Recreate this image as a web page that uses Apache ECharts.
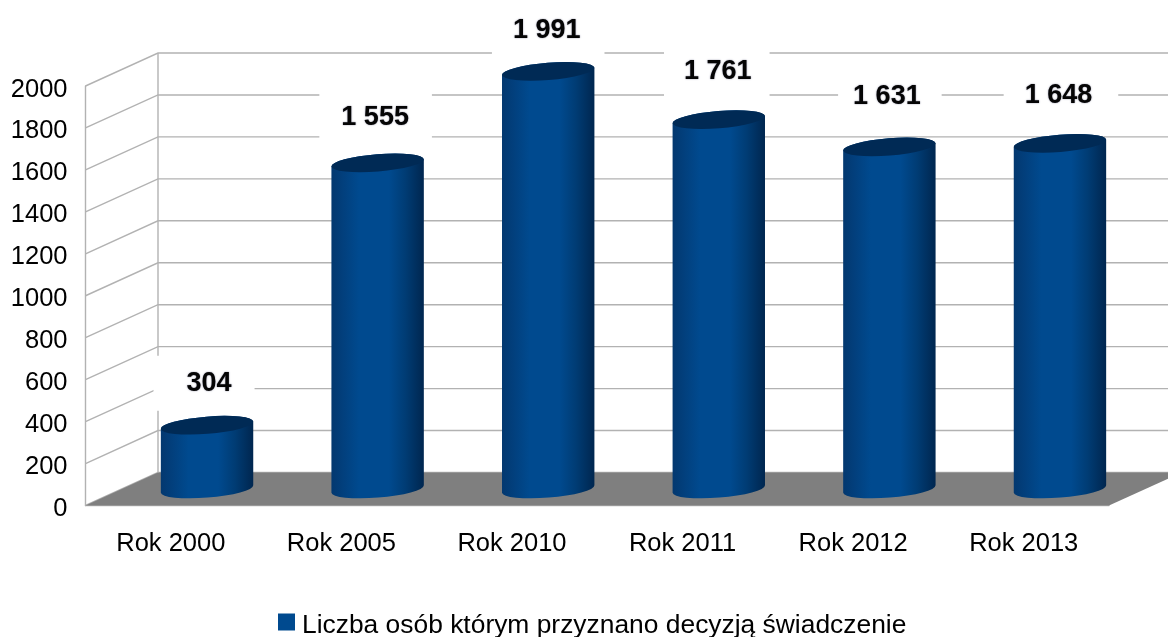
<!DOCTYPE html>
<html><head><meta charset="utf-8">
<style>html,body{margin:0;padding:0;background:#fff}#c{width:1168px;height:637px}</style>
<script src="https://cdn.jsdelivr.net/npm/echarts@6/dist/echarts.min.js"></script>
</head><body><div id="c"></div>
<script>
const categories = ['Rok 2000','Rok 2005','Rok 2010','Rok 2011','Rok 2012','Rok 2013'];
const values = [304,1555,1991,1761,1631,1648];
const wallTicks = [0,200,400,600,800,1000,1200,1400,1600,1800,2000];
const seriesName = 'Liczba osób którym przyznano decyzją świadczenie';
const labelNudge = [[-3,42,33,23],[-2,45,22,23],[0,41,21,24],[-2,48,20,18],[0.5,50,15,21],[1,48,21,26]];
const depthX = 72.5, depthY = -33;
const font = '"Liberation Sans", Arial, sans-serif';
const gridColor = '#b2b2b2';
const chart = echarts.init(document.getElementById('c'), null, {renderer:'canvas'});

function wallItem(params, api){
  const cs = params.coordSys;
  const p = api.coord([0, api.value(0)]);
  const left = cs.x, right = cs.x + cs.width;
  const pts = [[left,p[1]],[left+depthX,p[1]+depthY],[right+depthX,p[1]+depthY]];
  return {type:'polyline', shape:{points:pts}, style:{stroke:gridColor,lineWidth:1.4,fill:null}, silent:true};
}
function floorItem(params, api){
  const cs = params.coordSys;
  const y0 = api.coord([0,0])[1], yTop = api.coord([0,2000])[1];
  const left = cs.x, right = cs.x + cs.width;
  return {type:'group', children:[
    {type:'polygon', shape:{points:[[left,y0],[left+depthX,y0+depthY],[right+depthX,y0+depthY],[right,y0]]}, style:{fill:'#7f7f7f'}},
    {type:'line', shape:{x1:left+depthX,y1:y0+depthY,x2:left+depthX,y2:yTop+depthY}, style:{stroke:gridColor,lineWidth:1.4}}
  ]};
}
function cylItem(params, api){
  const i = api.value(0), v = api.value(1);
  const base = api.coord([i,0]), top = api.coord([i,v]);
  const cx = base[0] + depthX/2, by = base[1] + depthY/2, ty = top[1] + depthY/2;
  const rx = 46.2, ry = 8.6, rot = -4.6, tilt = 3.7;
  const xl = cx-rx, xr = cx+rx;
  const body = `M${xl} ${ty+tilt} L${xl} ${by+tilt} A${rx} ${ry} ${rot} 0 0 ${xr} ${by-tilt} L${xr} ${ty-tilt} A${rx} ${ry} ${rot} 0 0 ${xl} ${ty+tilt} Z`;
  const cap = `M${xl} ${ty+tilt} A${rx} ${ry} ${rot} 0 1 ${xr} ${ty-tilt} A${rx} ${ry} ${rot} 0 1 ${xl} ${ty+tilt} Z`;
  const fill = new echarts.graphic.LinearGradient(0,0,1,0,[
    {offset:0,color:'#03386f'},{offset:0.12,color:'#023f7c'},{offset:0.3,color:'#004a8f'},
    {offset:0.62,color:'#004a8f'},{offset:0.8,color:'#003c74'},{offset:1,color:'#00264f'}]);
  const n = labelNudge[i];
  const lab = (v>=1000 ? String(v).replace(/(\d)(\d{3})$/,'$1 $2') : String(v));
  return {type:'group', children:[
    {type:'path', shape:{pathData:body}, style:{fill}},
    {type:'path', shape:{pathData:cap}, style:{fill:'#002a55'}},
    {type:'text', x:cx+n[0], y:ty-n[1], style:{text:lab, font:'bold 27px '+font, fill:'#050505', align:'center', verticalAlign:'middle',
       backgroundColor:'#fff', padding:[14,n[3],14,n[2]], textShadowColor:'rgba(0,0,40,0.55)', textShadowBlur:1.5}, z2:50}
  ]};
}
chart.setOption({
  animation:false,
  backgroundColor:'#fff',
  textStyle:{fontFamily:font},
  grid:{left:85.5,right:59,top:86,bottom:131.5,containLabel:false},
  legend:{data:[seriesName],top:613,left:278,padding:0,icon:'rect',itemWidth:17,itemHeight:17,
    formatter:n=>'{a|'+n+'}',
    textStyle:{fontSize:26.4,color:'#000',fontFamily:font,
      rich:{a:{fontSize:26.4,color:'#000',fontFamily:font,padding:[8,0,0,2]}}}},
  xAxis:{type:'category',data:categories,boundaryGap:true,
    axisLine:{lineStyle:{color:gridColor,width:1.4}},axisTick:{show:false},splitLine:{show:false},
    axisLabel:{color:'#000',fontSize:25.5,fontFamily:font,margin:25}},
  yAxis:{type:'value',min:0,max:2000,interval:200,
    axisLine:{show:true,lineStyle:{color:gridColor,width:1.4}},axisTick:{show:false},splitLine:{show:false},
    axisLabel:{color:'#000',fontSize:25.5,fontFamily:font,margin:18,verticalAlign:'top',lineHeight:7,formatter:v=>String(v)}},
  series:[
    {type:'custom',name:'wall',silent:true,clip:false,z:1,coordinateSystem:'cartesian2d',data:wallTicks.map(t=>[t]),renderItem:wallItem,encode:{y:0}},
    {type:'custom',name:'floor',silent:true,clip:false,z:2,coordinateSystem:'cartesian2d',data:[[0]],renderItem:floorItem},
    {type:'custom',name:seriesName,clip:false,z:3,coordinateSystem:'cartesian2d',itemStyle:{color:'#004a8f'},
      data:values.map((v,i)=>[i,v]),renderItem:cylItem,encode:{x:0,y:1}}
  ]
});
</script></body></html>
